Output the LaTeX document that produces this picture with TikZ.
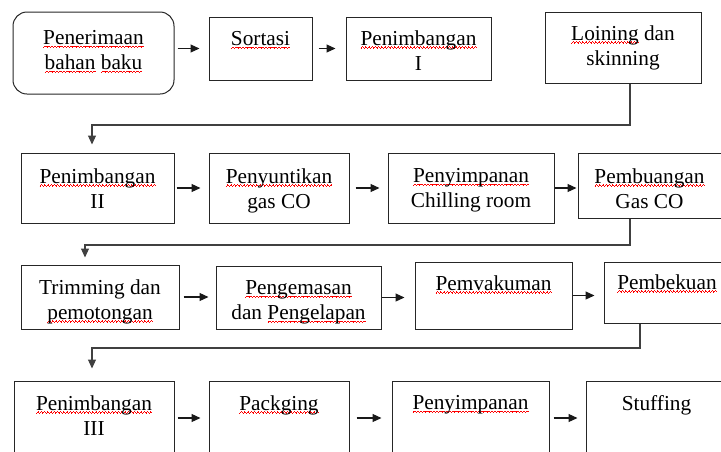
\documentclass[tikz,border=0pt]{standalone}
\usepackage{fontspec}
\setmainfont{Liberation Serif}
\usetikzlibrary{arrows.meta}
% garis gelombang merah di bawah kata
\newcommand\seg[1]{\raise#1\hbox{\vrule width.8pt height.7pt depth0pt}}
\newcommand\gel{\seg{0pt}\seg{.7pt}\seg{1.4pt}\seg{.7pt}}
\newcommand\sq[1]{\setbox0=\hbox{#1}\leavevmode\rlap{\textcolor{red}{\lower3pt\hbox to\wd0{\xleaders\hbox{\gel}\hfil}}}\box0\relax}
\tikzset{%
	proses/.style={
		draw=black!85,
		line width=1pt,
		inner sep=0pt
	}
}
\tikzset{teks/.style={anchor=north, inner sep=0pt, yshift=-15pt, align=center, font=\fontsize{21.3}{25}\selectfont}}
\tikzset{panah/.style={draw=black!90, line width=1.1pt, -{Triangle[length=9pt,width=8pt]}}}
\tikzset{alur/.style={draw=black!75, line width=1.1pt, -{Triangle[length=9pt,width=8pt]}}}

\begin{document}
\begin{tikzpicture}[x=1pt, y=-1pt]
		\useasboundingbox (0,0) rectangle (721,451);

		% baris 1
		\node[proses, rounded corners=14pt, minimum width=161pt, minimum height=82pt, label={[teks, yshift=-4pt]north:{\sq{Penerimaan}\\\sq{bahan} \sq{baku}}}] (terima) at (93.5,53) {};
		\node[proses, minimum width=103pt, minimum height=63pt, label={[teks]north:{\sq{Sortasi}}}] (sortasi) at (260.5,48.5) {};
		\node[proses, minimum width=145pt, minimum height=63pt, label={[teks, yshift=1pt]north:{\sq{Penimbangan}\\I}}] (timbang1) at (418.5,48.5) {};
		\node[proses, minimum width=156pt, minimum height=71pt, label={[teks, yshift=1pt]north:{\sq{Loining} dan\\skinning}}] (loining) at (623,47.5) {};

		% baris 2
		\node[proses, minimum width=153pt, minimum height=70pt, label={[teks, yshift=-1pt]north:{\sq{Penimbangan}\\II}}] (timbang2) at (97.5,188) {};
		\node[proses, minimum width=140pt, minimum height=70pt, label={[teks, yshift=-1pt]north:{\sq{Penyuntikan}\\gas CO}}] (suntik) at (279,188) {};
		\node[proses, minimum width=166pt, minimum height=70pt, label={[teks, yshift=-1pt]north:{\sq{Penyimpanan}\\Chilling room}}] (simpan1) at (471,188) {};
		\node[proses, minimum width=143pt, minimum height=65pt, label={[teks, yshift=-1pt]north:{\sq{Pembuangan}\\Gas CO}}] (buang) at (649.5,185.5) {};

		% baris 3
		\node[proses, minimum width=158pt, minimum height=64pt, label={[teks]north:{Trimming dan\\\sq{pemotongan}}}] (trim) at (100,297) {};
		\node[proses, minimum width=165pt, minimum height=63pt, label={[teks]north:{\sq{Pengemasan}\\dan \sq{Pengelapan}}}] (kemas) at (298.5,297.5) {};
		\node[proses, minimum width=157pt, minimum height=67pt, label={[teks, yshift=1pt]north:{\sq{Pemvakuman}}}] (vakum) at (493.5,295.5) {};
		\node[proses, minimum width=126pt, minimum height=61pt, label={[teks, yshift=2pt]north:{\sq{Pembekuan}}}] (beku) at (667,292.5) {};

		% baris 4
		\node[proses, minimum width=160pt, minimum height=74pt, label={[teks]north:{\sq{Penimbangan}\\III}}] (timbang3) at (94,418) {};
		\node[proses, minimum width=140pt, minimum height=74pt, label={[teks]north:{\sq{Packging}}}] (packging) at (279,418) {};
		\node[proses, minimum width=157pt, minimum height=74pt, label={[teks]north:{\sq{Penyimpanan}}}] (simpan2) at (470.5,418) {};
		\node[proses, minimum width=141pt, minimum height=74pt, label={[teks]north:{Stuffing}}] (stuffing) at (656.5,418) {};

		\draw[panah] ([xshift=3pt]terima.east |- sortasi.west) -- ([xshift=-9pt]sortasi.west);
		\draw[panah] ([xshift=6pt]sortasi.east) -- ([xshift=-10pt]timbang1.west);

		\draw[panah] ([xshift=2pt]timbang2.east) -- ([xshift=-8pt]suntik.west);
		\draw[panah] ([xshift=6pt]suntik.east) -- ([xshift=-8pt]simpan1.west);
		\draw[panah] (simpan1.east) -- ([xshift=-1pt]buang.west |- simpan1.east);

		\draw[panah] ([xshift=4pt]trim.east) -- ([xshift=-7pt]kemas.west |- trim.east);
		\draw[panah] (kemas.east) -- ([xshift=-10pt]vakum.west |- kemas.east);
		\draw[panah] (vakum.east) -- ([xshift=-9pt]beku.west |- vakum.east);

		\draw[panah] ([xshift=3pt]timbang3.east) -- ([xshift=-8pt]packging.west);
		\draw[panah] ([xshift=7pt]packging.east) -- ([xshift=-10pt]simpan2.west);
		\draw[panah] ([xshift=4pt]simpan2.east) -- ([xshift=-8pt]stuffing.west);

		% belokan antar baris
		\coordinate (k1) at (630,125);	\coordinate (k2) at (92,125);
		\coordinate (k3) at (630,245);	\coordinate (k4) at (85,245);
		\coordinate (k5) at (640,348);	\coordinate (k6) at (92,348);

		\draw[alur] (loining.south -| k1) -- (k1) -- (k2) -- ([yshift=8pt]timbang2.north -| k2);
		\draw[alur] (buang.south -| k3) -- (k3) -- (k4) -- ([yshift=7pt]trim.north -| k4);
		\draw[alur] (beku.south -| k5) -- (k5) -- (k6) -- ([yshift=12pt]timbang3.north -| k6);
	\end{tikzpicture}
\end{document}
